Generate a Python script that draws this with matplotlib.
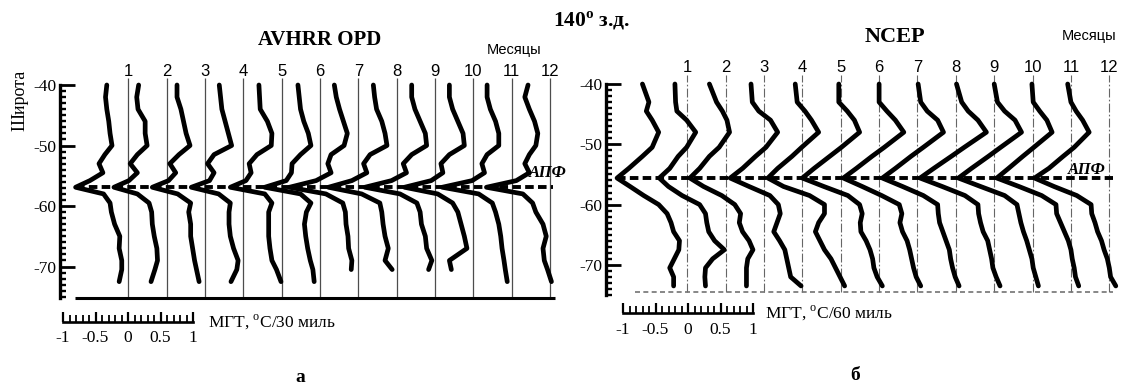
import numpy as np
import matplotlib
matplotlib.use('Agg')
import matplotlib.pyplot as plt
from matplotlib.ticker import MultipleLocator

plt.rcParams['font.family'] = ['Liberation Serif', 'DejaVu Serif']
plt.rcParams['axes.unicode_minus'] = False
plt.rcParams['mathtext.fontset'] = 'custom'
plt.rcParams['mathtext.rm'] = 'Liberation Serif'
plt.rcParams['mathtext.bf'] = 'Liberation Serif:bold'

W, H = 1121, 389
nan = np.nan

months = [str(m) for m in range(1, 13)]

# --- AVHRR OPD, 140 W: MGT profiles (degC / 30 miles) ---
lat_avhrr = [-40, -42, -44, -46, -48, -50, -51.5, -53, -54.5, -55.8, -56.9,
             -58, -59.5, -61, -63, -65, -67, -69, -70.5, -72.5]
avhrr_01 = [-0.33, -0.35, -0.33, -0.30, -0.28, -0.25, -0.36, -0.45, -0.39, -0.59, -0.81,
            -0.38, -0.28, -0.26, -0.21, -0.13, -0.14, -0.10, -0.10, -0.14]
avhrr_02 = [-0.43, -0.46, -0.44, -0.33, -0.33, -0.30, -0.45, -0.56, -0.45, -0.58, -0.81,
            -0.45, -0.27, -0.23, -0.22, -0.19, -0.15, -0.14, -0.18, -0.24]
avhrr_03 = [-0.43, -0.43, -0.37, -0.33, -0.29, -0.23, -0.40, -0.54, -0.45, -0.56, -0.81,
            -0.42, -0.22, -0.25, -0.22, -0.22, -0.19, -0.16, -0.13, -0.09]
avhrr_04 = [-0.37, -0.35, -0.33, -0.28, -0.23, -0.18, -0.45, -0.55, -0.45, -0.52, -0.80,
            -0.38, -0.20, -0.22, -0.22, -0.20, -0.15, -0.08, -0.10, -0.19]
avhrr_05 = [-0.35, -0.34, -0.33, -0.22, -0.15, -0.16, -0.38, -0.50, -0.47, -0.55, -0.79,
            -0.26, -0.15, -0.20, -0.20, -0.20, -0.18, -0.15, -0.08, -0.01]
avhrr_06 = [-0.34, -0.32, -0.30, -0.25, -0.18, -0.14, -0.30, -0.43, -0.44, -0.52, -0.85,
            -0.30, -0.14, -0.21, -0.24, -0.22, -0.19, -0.15, -0.11, -0.09]
avhrr_07 = [-0.37, -0.34, -0.29, -0.23, -0.17, -0.22, -0.42, -0.47, -0.42, -0.65, -1.06,
            -0.50, -0.24, -0.20, -0.19, -0.16, -0.15, -0.10, -0.11, nan]
avhrr_08 = [-0.36, -0.34, -0.31, -0.23, -0.18, -0.15, -0.41, -0.51, -0.46, -0.69, -1.05,
            -0.54, -0.26, -0.23, -0.21, -0.18, -0.13, -0.18, -0.07, nan]
avhrr_09 = [-0.36, -0.36, -0.31, -0.23, -0.15, -0.13, -0.36, -0.49, -0.44, -0.67, -1.08,
            -0.54, -0.28, -0.23, -0.21, -0.15, -0.13, -0.05, -0.10, nan]
avhrr_10 = [-0.37, -0.37, -0.32, -0.24, -0.16, -0.14, -0.37, -0.50, -0.47, -0.65, -1.06,
            -0.55, -0.32, -0.24, -0.19, -0.14, -0.10, -0.37, -0.34, nan]
avhrr_11 = [-0.38, -0.38, -0.33, -0.25, -0.20, -0.20, -0.38, -0.46, -0.42, -0.61, -1.07,
            -0.51, -0.30, -0.25, -0.20, -0.17, -0.15, -0.12, -0.10, -0.07]
avhrr_12 = [-0.34, -0.39, -0.32, -0.24, -0.19, -0.22, -0.32, -0.39, -0.32, -0.52, -0.98,
            -0.42, -0.27, -0.22, -0.11, -0.06, -0.11, -0.09, -0.04, 0.02]
apf_avhrr = -56.9

# --- NCEP, 140 W: MGT profiles (degC / 60 miles) ---
lat_ncep = [-40, -43, -44.5, -46, -48, -50.5, -52, -54, -55.6, -57, -58.5,
            -60, -61.5, -63, -64.5, -66, -67.5, -69, -70.5, -72, -73.5]
ncep_01 = [-0.69, -0.59, -0.63, -0.54, -0.44, -0.54, -0.69, -0.90, -1.08, -0.88, -0.67,
           -0.44, -0.31, -0.25, -0.21, -0.12, -0.13, -0.20, -0.27, -0.21, -0.21]
ncep_02 = [-0.78, -0.77, -0.75, -0.60, -0.46, -0.60, -0.73, -0.86, -1.02, -0.88, -0.67,
           -0.40, -0.31, -0.29, -0.26, -0.17, -0.02, -0.20, -0.31, -0.32, -0.31]
ncep_03 = [-0.84, -0.73, -0.64, -0.57, -0.53, -0.69, -0.84, -0.99, -1.14, -0.93, -0.65,
           -0.45, -0.36, -0.38, -0.33, -0.23, -0.17, -0.25, -0.27, -0.27, -0.27]
ncep_04 = [-0.79, -0.77, -0.67, -0.49, -0.38, -0.56, -0.72, -0.92, -1.11, -0.82, -0.50,
           -0.37, -0.34, -0.39, -0.44, -0.35, -0.27, -0.24, -0.21, -0.18, -0.02]
ncep_05 = [-0.70, -0.67, -0.55, -0.45, -0.34, -0.60, -0.75, -0.97, -1.12, -0.88, -0.48,
           -0.25, -0.25, -0.34, -0.39, -0.32, -0.25, -0.15, -0.08, -0.01, 0.06]
ncep_06 = [-0.62, -0.62, -0.49, -0.38, -0.30, -0.58, -0.76, -1.00, -1.18, -0.85, -0.48,
           -0.30, -0.26, -0.29, -0.28, -0.20, -0.14, -0.10, -0.08, -0.03, 0.05]
ncep_07 = [-0.59, -0.59, -0.47, -0.34, -0.21, -0.51, -0.70, -0.94, -1.14, -0.85, -0.55,
           -0.28, -0.24, -0.27, -0.23, -0.16, -0.12, -0.09, -0.06, -0.02, 0.05]
ncep_08 = [-0.58, -0.54, -0.44, -0.28, -0.19, -0.50, -0.69, -0.93, -1.13, -0.82, -0.50,
           -0.28, -0.27, -0.25, -0.20, -0.15, -0.10, -0.08, -0.05, -0.01, 0.05]
ncep_09 = [-0.58, -0.50, -0.40, -0.25, -0.12, -0.46, -0.66, -0.93, -1.14, -0.80, -0.45,
           -0.25, -0.24, -0.21, -0.17, -0.10, -0.07, -0.04, -0.02, 0.03, 0.09]
ncep_10 = [-0.59, -0.54, -0.43, -0.27, -0.17, -0.49, -0.68, -0.94, -1.14, -0.80, -0.43,
           -0.24, -0.21, -0.18, -0.14, -0.09, -0.05, -0.01, 0.01, 0.05, 0.09]
ncep_11 = [-0.60, -0.58, -0.48, -0.37, -0.29, -0.57, -0.74, -0.96, -1.14, -0.80, -0.45,
           -0.23, -0.22, -0.16, -0.10, -0.04, 0.00, 0.02, 0.05, 0.07, 0.12]
ncep_12 = [-0.64, -0.59, -0.51, -0.41, -0.31, -0.54, -0.71, -0.93, -1.15, -0.85, -0.50,
           -0.28, -0.27, -0.22, -0.18, -0.12, -0.08, -0.03, 0.00, 0.02, 0.10]
apf_ncep = -55.6

lat_ticks = [-40, -50, -60, -70]
scale_ticks = [-1, -0.5, 0, 0.5, 1]
scale_labels = ['-1', '-0.5', '0', '0.5', '1']

avhrr_all = [avhrr_01, avhrr_02, avhrr_03, avhrr_04, avhrr_05, avhrr_06,
             avhrr_07, avhrr_08, avhrr_09, avhrr_10, avhrr_11, avhrr_12]
ncep_all = [ncep_01, ncep_02, ncep_03, ncep_04, ncep_05, ncep_06,
            ncep_07, ncep_08, ncep_09, ncep_10, ncep_11, ncep_12]

month_step = 0.59   # spacing of the monthly zero lines, MGT units


def px_rect(x0, y0, x1, y1):
    return [x0 / W, 1 - y1 / H, (x1 - x0) / W, (y1 - y0) / H]


fig = plt.figure(figsize=(W / 100, H / 100), dpi=100)


def draw_panel(rect, xlim, ylim, lats, profiles, apf, num_lat, line_top, left_style):
    ax = fig.add_axes(rect)
    ax.set_xlim(*xlim)
    ax.set_ylim(*ylim)
    ax.patch.set_alpha(0)
    pos = np.arange(12) * month_step

    if left_style:
        ax.vlines(pos, ylim[0], line_top, colors='0.3', lw=0.9, clip_on=False)
        ax.hlines(ylim[0], xlim[0] + 0.23, pos[-1] + 0.08, colors='k', lw=2.2, clip_on=False)
    else:
        ax.vlines(pos, ylim[0] + 0.55, line_top, colors='0.4', lw=0.8,
                  linestyles=(0, (8, 2, 1.5, 2)), clip_on=False)
        ax.hlines(ylim[0] + 0.55, xlim[0] + 0.45, pos[-1] + 0.06, colors='0.45', lw=1.2,
                  linestyles=(0, (3, 2)), clip_on=False)

    for k, prof in enumerate(profiles):
        ax.plot(pos[k] + np.array(prof), lats, color='k', lw=3.4, clip_on=False,
                solid_joinstyle='round', solid_capstyle='round')
        ax.text(pos[k], num_lat, months[k], ha='center', va='center',
                fontsize=12, family='Liberation Sans')

    tip = pos[0] + np.nanmin(profiles[0])
    ax.hlines(apf, tip, pos[-1] + 0.05, colors='k', lw=2.8,
              linestyles=(0, (2.2, 1.1)), clip_on=False)

    for s in ['top', 'right', 'bottom']:
        ax.spines[s].set_visible(False)
    ax.spines['left'].set_linewidth(2.4)
    ax.set_xticks([])
    ax.set_yticks(lat_ticks)
    ax.yaxis.set_minor_locator(MultipleLocator(1))
    ax.tick_params(axis='y', which='major', direction='in', length=10.5, width=2.0,
                   labelsize=12.5, pad=2.5)
    ax.tick_params(axis='y', which='minor', direction='in', length=4.3, width=1.7)
    return ax


def scale_bar(x0, x1, y, pad, label, label_x):
    sb = fig.add_axes(px_rect(x0, y - 12, x1, y))
    sb.set_xlim(-1, 1)
    sb.set_ylim(0, 1)
    sb.patch.set_alpha(0)
    for s in ['top', 'left', 'right']:
        sb.spines[s].set_visible(False)
    sb.spines['bottom'].set_linewidth(1.9)
    sb.set_yticks([])
    sb.set_xticks(scale_ticks)
    sb.set_xticklabels(scale_labels)
    sb.xaxis.set_minor_locator(MultipleLocator(0.1))
    sb.tick_params(axis='x', which='major', direction='in', length=7.5, width=1.6,
                   labelsize=12.5, pad=pad)
    sb.tick_params(axis='x', which='minor', direction='in', length=4.8, width=1.3)
    fig.text(label_x / W, 1 - y / H, label, ha='left', va='center', fontsize=12.5)


# left panel: AVHRR OPD
ax_a = draw_panel(px_rect(60, 85, 556, 298), (-1.05, 6.58), (-75.2, -40),
                  lat_avhrr, avhrr_all, apf_avhrr, -37.7, -38.9, True)
ax_a.text(6.46, -54.5, 'АПФ', ha='center', va='center', fontsize=12,
          style='italic', weight='bold')

# right panel: NCEP
ax_b = draw_panel(px_rect(606, 84, 1121, 295), (-1.25, 6.67), (-75, -40),
                  lat_ncep, ncep_all, apf_ncep, -37.2, -38.5, False)
ax_b.text(6.15, -54.3, 'АПФ', ha='center', va='center', fontsize=12,
          style='italic', weight='bold')

scale_bar(63, 193, 322, 5.8, 'МГТ, $^{\\rm o}$C/30 миль', 208)
scale_bar(623, 753, 313, 6.5, 'МГТ, $^{\\rm o}$C/60 миль', 765)

fig.text(20 / W, 1 - 100 / H, 'Широта', rotation=90, ha='center', va='center', fontsize=13)
fig.text(592 / W, 1 - 21 / H, '140$^{\\mathbf{o}}$ з.д.', ha='center', va='center',
         fontsize=15.5, weight='bold')
fig.text(320 / W, 1 - 40 / H, 'AVHRR OPD', ha='center', va='center', fontsize=15, weight='bold')
fig.text(895 / W, 1 - 37 / H, 'NCEP', ha='center', va='center', fontsize=16, weight='bold')
fig.text(514 / W, 1 - 50 / H, 'Месяцы', ha='center', va='center', fontsize=10.5,
         family='Liberation Sans')
fig.text(1089 / W, 1 - 36 / H, 'Месяцы', ha='center', va='center', fontsize=10.5,
         family='Liberation Sans')
fig.text(300 / W, 1 - 377 / H, 'а', ha='center', va='center', fontsize=14, weight='bold')
fig.text(855 / W, 1 - 376 / H, 'б', ha='center', va='center', fontsize=14, weight='bold')

fig.savefig('out.png', dpi=100)
